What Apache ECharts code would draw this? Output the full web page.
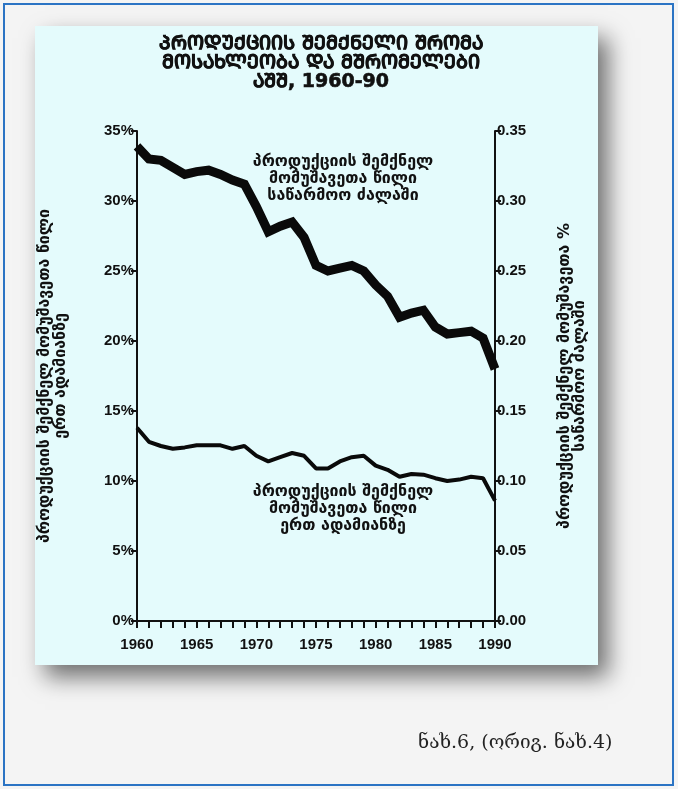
<!DOCTYPE html>
<html>
<head>
<meta charset="utf-8">
<script src="https://cdn.jsdelivr.net/npm/echarts@6/dist/echarts.min.js"></script>
<style>
html,body{margin:0;padding:0;background:#f4f4f4;}
#c{width:678px;height:789px;}
</style>
</head>
<body>
<div id="c"></div>
<script>
// ---- data ----
const years = [1960,1961,1962,1963,1964,1965,1966,1967,1968,1969,1970,1971,1972,1973,1974,1975,1976,1977,1978,1979,1980,1981,1982,1983,1984,1985,1986,1987,1988,1989,1990];
const shareLaborForce = [33.9,33.0,32.9,32.4,31.9,32.1,32.2,31.9,31.5,31.2,29.6,27.8,28.2,28.5,27.4,25.4,25.0,25.2,25.4,25.0,24.0,23.2,21.7,22.0,22.2,21.0,20.5,20.6,20.7,20.2,18.0];
const sharePerPerson = [13.8,12.8,12.5,12.3,12.4,12.55,12.55,12.55,12.3,12.5,11.8,11.4,11.7,12.0,11.8,10.9,10.9,11.4,11.7,11.8,11.1,10.8,10.3,10.5,10.45,10.2,10.0,10.1,10.3,10.2,8.6];
const titleLines = ['ᲞᲠᲝᲓᲣᲥᲪᲘᲘᲡ ᲨᲔᲛᲥᲜᲔᲚᲘ ᲨᲠᲝᲛᲐ','ᲛᲝᲡᲐᲮᲚᲔᲝᲑᲐ ᲓᲐ ᲛᲨᲠᲝᲛᲔᲚᲔᲑᲘ','ᲐᲨᲨ, 1960-90'];
const leftAxisName = 'პროდუქციის შემქნელ მომუშავეთა წილი\nერთ ადამიანზე';
const rightAxisName = 'პროდუქციის შემქნელ მომუშავეთა %\nსაწარმოო ძალაში';
const noteTop = 'პროდუქციის შემქნელ\nმომუშავეთა წილი\nსაწარმოო ძალაში';
const noteBottom = 'პროდუქციის შემქნელ\nმომუშავეთა წილი\nერთ ადამიანზე';
const caption = 'ნახ.6, (ორიგ. ნახ.4)';

const GEO = "'DejaVu Sans', 'Noto Sans', sans-serif";
const NUM = "'Liberation Sans Narrow', 'Arial Narrow', 'Liberation Sans', Arial, sans-serif";

const chart = echarts.init(document.getElementById('c'), null, {renderer:'canvas'});
chart.setOption({
  animation: false,
  backgroundColor: '#f4f4f4',
  title: {
    text: titleLines.join('\n'),
    left: 316, top: 30, textAlign: 'center',
    textStyle: {fontFamily: GEO, fontWeight: 'bold', fontSize: 19, lineHeight: 19, color: '#111',
                textBorderColor: '#111', textBorderWidth: 0.6}
  },
  grid: {left: 137, right: 183, top: 131, bottom: 168, containLabel: false},
  xAxis: {
    type: 'value', min: 1960, max: 1990, interval: 5,
    axisLine: {show: true, lineStyle: {color: '#111', width: 2}},
    axisTick: {show: true, length: 7, lineStyle: {color: '#111', width: 2}},
    minorTick: {show: true, splitNumber: 5, length: 7, lineStyle: {color: '#111', width: 2}},
    splitLine: {show: false},
    axisLabel: {color: '#111', fontFamily: NUM, fontWeight: 'bold', fontSize: 15, margin: 16, formatter: v => String(v)}
  },
  yAxis: [
    {
      type: 'value', min: 0, max: 35, interval: 5, position: 'left',
      axisLine: {show: true, lineStyle: {color: '#111', width: 2}},
      axisTick: {show: true, length: 6, lineStyle: {color: '#111', width: 2}},
      splitLine: {show: false},
      axisLabel: {color: '#111', fontFamily: NUM, fontWeight: 'bold', fontSize: 15, margin: 3, formatter: '{value}%'},
      name: leftAxisName, nameLocation: 'middle', nameRotate: 90, nameGap: 68,
      nameTextStyle: {fontFamily: GEO, fontWeight: 'bold', fontSize: 16, lineHeight: 16, color: '#111'}
    },
    {
      type: 'value', min: 0, max: 35, interval: 5, position: 'right',
      axisLine: {show: true, lineStyle: {color: '#111', width: 2}},
      axisTick: {show: true, length: 6, lineStyle: {color: '#111', width: 2}},
      splitLine: {show: false},
      axisLabel: {color: '#111', fontFamily: NUM, fontWeight: 'bold', fontSize: 15, margin: 2, formatter: v => (v/100).toFixed(2)},
      name: rightAxisName, nameLocation: 'middle', nameRotate: 90, nameGap: 62,
      nameTextStyle: {fontFamily: GEO, fontWeight: 'bold', fontSize: 16, lineHeight: 15, color: '#111'}
    }
  ],
  series: [
    {
      type: 'line', yAxisIndex: 1, z: 5,
      data: years.map((y,i) => [y, shareLaborForce[i]]),
      showSymbol: false, symbol: 'none',
      lineStyle: {color: '#0a0a0a', width: 9, join: 'miter'}
    },
    {
      type: 'line', yAxisIndex: 0, z: 5,
      data: years.map((y,i) => [y, sharePerPerson[i]]),
      showSymbol: false, symbol: 'none',
      lineStyle: {color: '#0a0a0a', width: 4}
    }
  ],
  graphic: [
    {type: 'rect', z: -20, silent: true, shape: {x: 4, y: 4, width: 669, height: 781},
     style: {fill: '#f4f4f4', stroke: '#2b74c4', lineWidth: 2}},
    {type: 'rect', z: -15, silent: true, shape: {x: 35, y: 26, width: 563, height: 639},
     style: {fill: '#e4fbfc', shadowBlur: 22, shadowOffsetX: 10, shadowOffsetY: 12, shadowColor: 'rgba(0,0,0,0.55)'}},
    {type: 'text', z: 50, x: 343, y: 153, silent: true,
     style: {text: noteTop, textAlign: 'center', textVerticalAlign: 'top', font: "bold 16px " + GEO, lineHeight: 17, fill: '#111'}},
    {type: 'text', z: 50, x: 343, y: 483, silent: true,
     style: {text: noteBottom, textAlign: 'center', textVerticalAlign: 'top', font: "bold 16px " + GEO, lineHeight: 17, fill: '#111'}},
    {type: 'text', z: 50, x: 418, y: 734, silent: true,
     style: {text: caption, font: "19px 'DejaVu Serif', 'Noto Serif', serif", fill: '#222'}}
  ]
});
</script>
</body>
</html>
